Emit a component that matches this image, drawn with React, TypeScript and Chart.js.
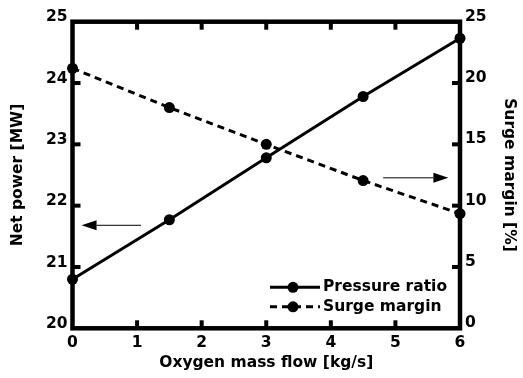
import React, { useEffect, useRef } from "react";
import { Chart, registerables } from "chart.js";
Chart.register(...registerables);

const oxygenFlow = [0, 1.5, 3, 4.5, 6];
const pressureRatio = [20.8, 21.77, 22.78, 23.78, 24.73];
const surgeMargin = [21.2, 18.0, 15.0, 12.05, 9.35];
const seriesNames = ["Pressure ratio", "Surge margin"];
const xRange = [0, 6];
const leftRange = [20, 25];
const rightRange = [0, 25];
const arrowLeft = { y: 21.68, from: 1.06, to: 0.14 };
const arrowRight = { y: 12.27, from: 4.81, to: 5.82 };

const FONT = "'DejaVu Sans', sans-serif";

const framePlugin = {
  id: "frame",
  beforeDatasetsDraw(chart: any) {
    const { ctx, chartArea: a, scales } = chart;
    ctx.save();
    ctx.strokeStyle = "#000";
    ctx.fillStyle = "#000";
    const tl = 8, tw = 4;
    for (const t of scales.x.ticks) {
      if (t.value <= xRange[0] || t.value >= xRange[1]) continue;
      const px = scales.x.getPixelForValue(t.value);
      ctx.fillRect(px - tw / 2, a.bottom - tl, tw, tl);
      ctx.fillRect(px - tw / 2, a.top, tw, tl);
    }
    for (const t of scales.y.ticks) {
      if (t.value <= leftRange[0] || t.value >= leftRange[1]) continue;
      const py = scales.y.getPixelForValue(t.value);
      ctx.fillRect(a.left, py - tw / 2, tl, tw);
    }
    for (const t of scales.y2.ticks) {
      if (t.value <= rightRange[0] || t.value >= rightRange[1]) continue;
      const py = scales.y2.getPixelForValue(t.value);
      ctx.fillRect(a.right - tl, py - tw / 2, tl, tw);
    }
    ctx.lineWidth = 4.5;
    ctx.strokeRect(a.left, a.top, a.right - a.left, a.bottom - a.top);
    ctx.restore();
  },
  afterDatasetsDraw(chart: any) {
    const { ctx, chartArea: a, scales } = chart;
    ctx.save();
    const drawArrow = (x1: number, x2: number, y: number) => {
      const dir = Math.sign(x2 - x1);
      const hl = 15, hw = 5;
      ctx.strokeStyle = "#000";
      ctx.fillStyle = "#000";
      ctx.lineWidth = 1;
      ctx.beginPath();
      ctx.moveTo(x1, y);
      ctx.lineTo(x2 - dir * hl, y);
      ctx.stroke();
      ctx.beginPath();
      ctx.moveTo(x2, y);
      ctx.lineTo(x2 - dir * hl, y - hw);
      ctx.lineTo(x2 - dir * hl, y + hw);
      ctx.closePath();
      ctx.fill();
    };
    drawArrow(
      scales.x.getPixelForValue(arrowLeft.from),
      scales.x.getPixelForValue(arrowLeft.to),
      scales.y.getPixelForValue(arrowLeft.y)
    );
    drawArrow(
      scales.x.getPixelForValue(arrowRight.from),
      scales.x.getPixelForValue(arrowRight.to),
      scales.y2.getPixelForValue(arrowRight.y)
    );
    const rows = [a.bottom - 41, a.bottom - 21.5];
    chart.data.datasets.forEach((ds: any, i: number) => {
      const y = rows[i];
      const x1 = a.right - 190, x2 = a.right - 140;
      ctx.strokeStyle = "#000";
      ctx.lineWidth = 3;
      ctx.setLineDash(ds.borderDash || []);
      ctx.beginPath();
      ctx.moveTo(x1, y);
      ctx.lineTo(x2, y);
      ctx.stroke();
      ctx.setLineDash([]);
      ctx.beginPath();
      ctx.arc((x1 + x2) / 2 - 2, y, 5.5, 0, Math.PI * 2);
      ctx.fill();
      ctx.font = `bold 15.5px ${FONT}`;
      ctx.textBaseline = "middle";
      ctx.textAlign = "left";
      ctx.fillText(ds.label, x2 + 3, y);
    });
    ctx.restore();
  },
};

export default function App() {
  const ref = useRef<HTMLCanvasElement | null>(null);
  useEffect(() => {
    if (!ref.current) return;
    const tickFont = { family: FONT, size: 15.5, weight: "bold" as const };
    const titleFont = { family: FONT, size: 15.5, weight: "bold" as const };
    const chart = new Chart(ref.current, {
      type: "line",
      data: {
        datasets: [
          {
            label: seriesNames[0],
            data: oxygenFlow.map((x, i) => ({ x, y: pressureRatio[i] })),
            yAxisID: "y",
            borderColor: "#000",
            backgroundColor: "#000",
            borderWidth: 3,
            pointRadius: 5.5,
            pointBorderWidth: 0,
            pointBackgroundColor: "#000",
            clip: false as any,
          },
          {
            label: seriesNames[1],
            data: oxygenFlow.map((x, i) => ({ x, y: surgeMargin[i] })),
            yAxisID: "y2",
            borderColor: "#000",
            backgroundColor: "#000",
            borderWidth: 3,
            borderDash: [7, 5],
            pointRadius: 5.5,
            pointBorderWidth: 0,
            pointBackgroundColor: "#000",
            clip: false as any,
          },
        ],
      },
      options: {
        animation: false,
        responsive: false,
        layout: { padding: { top: 21.7, left: 0, right: 0, bottom: 0 } },
        plugins: { legend: { display: false }, tooltip: { enabled: false } },
        scales: {
          x: {
            type: "linear",
            min: xRange[0],
            max: xRange[1],
            ticks: { stepSize: 1, color: "#000", font: tickFont, padding: 5, maxRotation: 0 },
            grid: { display: false, drawTicks: false },
            border: { display: false },
            title: { display: true, text: "Oxygen mass flow [kg/s]", color: "#000", font: titleFont, padding: { top: 0, bottom: 5.7 } },
            afterFit: (s: any) => { s.height = 378 - 328.3; },
          },
          y: {
            type: "linear",
            position: "left",
            min: leftRange[0],
            max: leftRange[1],
            ticks: { stepSize: 1, color: "#000", font: tickFont, padding: 5, labelOffset: -4.5 },
            grid: { display: false, drawTicks: false },
            border: { display: false },
            title: { display: true, text: "Net power [MW]", color: "#000", font: titleFont, padding: { top: 9, bottom: 0 } },
            afterFit: (s: any) => { s.width = 72.5; },
          },
          y2: {
            type: "linear",
            position: "right",
            min: rightRange[0],
            max: rightRange[1],
            ticks: { stepSize: 5, color: "#000", font: tickFont, padding: 5, labelOffset: -5 },
            grid: { display: false, drawTicks: false },
            border: { display: false },
            title: { display: true, text: "Surge margin [%]", color: "#000", font: titleFont, padding: { top: 4.7, bottom: 0 } },
            afterFit: (s: any) => { s.width = 523 - 460; },
          },
        },
      },
      plugins: [framePlugin],
    });
    return () => chart.destroy();
  }, []);
  return (
    <div style={{ position: "absolute", left: 0, top: 0, width: 523, height: 378, background: "#fff" }}>
      <canvas ref={ref} width={523} height={378} style={{ width: 523, height: 378 }} />
    </div>
  );
}
